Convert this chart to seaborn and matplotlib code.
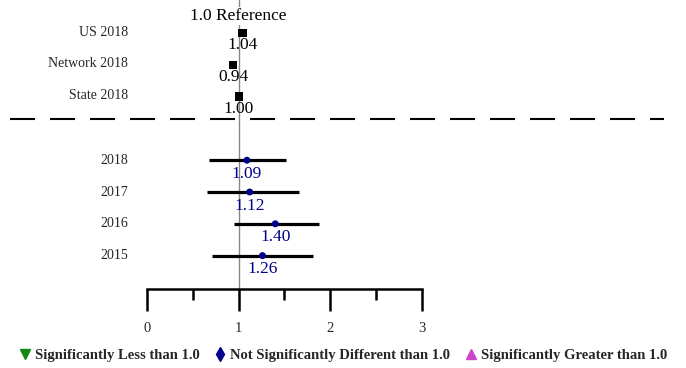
import matplotlib
matplotlib.use("Agg")
import matplotlib.pyplot as plt
from matplotlib.lines import Line2D
import seaborn as sns
import pandas as pd

# ---- data ----
top_labels = ["US 2018", "Network 2018", "State 2018"]
top_values = [1.04, 0.94, 1.00]
top_text = ["1.04", "0.94", "1.00"]

year_labels = ["2018", "2017", "2016", "2015"]
year_values = [1.09, 1.12, 1.40, 1.26]
year_text = ["1.09", "1.12", "1.40", "1.26"]
ci_low = [0.68, 0.65, 0.95, 0.71]
ci_high = [1.52, 1.66, 1.88, 1.81]

x_ticks = [0, 1, 2, 3]
legend_labels = ["Significantly Less than 1.0",
                 "Not Significantly Different than 1.0",
                 "Significantly Greater than 1.0"]

sns.set_theme(style="white")
plt.rcParams["font.family"] = ["Liberation Serif", "DejaVu Serif"]

top_df = pd.DataFrame({"label": top_labels, "value": top_values,
                       "text": top_text, "row": [0, 1, 2]})
yr_df = pd.DataFrame({"label": year_labels, "value": year_values,
                      "text": year_text, "lo": ci_low, "hi": ci_high,
                      "row": [4, 5, 6, 7]})

fig = plt.figure(figsize=(6.86, 3.68), dpi=100)
ax = fig.add_axes([0, 79 / 368, 1, 289 / 368])
px0 = 147.3
ppu = 91.4
ax.set_xlim(-px0 / ppu, (686 - px0) / ppu)
ax.set_ylim(8.05, -1.038)

navy = "#00008B"

# reference line
ax.axvline(1.0, color="#888888", lw=1.0, zorder=1)
ax.text(1.0, -0.53, "1.0 Reference", ha="center", va="center", fontsize=12.5,
        color="black", zorder=3,
        bbox=dict(facecolor="white", edgecolor="none", pad=0.5))

# CI bars
ax.hlines(yr_df["row"], yr_df["lo"], yr_df["hi"], color="black", lw=2.3, zorder=2)

# markers
sns.scatterplot(data=top_df, x="value", y="row", marker="s", color="black",
                s=36, edgecolor="none", ax=ax, zorder=4, legend=False)
sns.scatterplot(data=yr_df, x="value", y="row", marker="o", color=navy,
                s=25, edgecolor="none", ax=ax, zorder=4, legend=False)

lab_x = -0.211
for _, r in top_df.iterrows():
    ax.text(lab_x, r["row"] - 0.03, r["label"], ha="right", va="center", fontsize=10)
    ax.text(r["value"], r["row"] + 0.38, r["text"], ha="center", va="center",
            fontsize=12.5, color="black", zorder=3)
for _, r in yr_df.iterrows():
    ax.text(lab_x, r["row"], r["label"], ha="right", va="center", fontsize=10)
    ax.text(r["value"], r["row"] + 0.43, r["text"], ha="center", va="center",
            fontsize=12.5, color=navy, zorder=3)

# dashed separator
sep_x = [(10 - px0) / ppu, (664 - px0) / ppu]
ax.plot(sep_x, [2.70, 2.70], color="black", lw=1.5, dashes=(12, 7.2),
        solid_capstyle="butt", dash_capstyle="butt")

# axis
for s in ["left", "right", "top"]:
    ax.spines[s].set_visible(False)
ax.spines["bottom"].set_bounds(0, 3)
ax.spines["bottom"].set_linewidth(1.8)
ax.spines["bottom"].set_color("black")
ax.set_xticks(x_ticks)
ax.set_xticklabels([str(t) for t in x_ticks])
ax.set_xticks([0.5, 1.5, 2.5], minor=True)
ax.tick_params(axis="x", which="major", direction="out", length=16, width=1.8,
               color="black", bottom=True, labelsize=10.5, pad=8)
ax.tick_params(axis="x", which="minor", direction="out", length=8, width=1.8,
               color="black", bottom=True)
ax.set_yticks([])
ax.set_xlabel("")
ax.set_ylabel("")
ax.set_facecolor("white")

# legend
handles = [
    Line2D([], [], marker="v", color="#118811", linestyle="none", markersize=7),
    Line2D([], [], marker="d", color=navy, linestyle="none", markersize=7),
    Line2D([], [], marker="^", color="#CC44CC", linestyle="none", markersize=7),
]
fig.legend(handles, legend_labels, loc="center", bbox_to_anchor=(0.5, 0.033),
           ncol=3, frameon=False, prop={"weight": "bold", "size": 10.5},
           handlelength=0.8, handletextpad=0.3, columnspacing=1.0)

fig.savefig("out.png", dpi=100, facecolor="white")
